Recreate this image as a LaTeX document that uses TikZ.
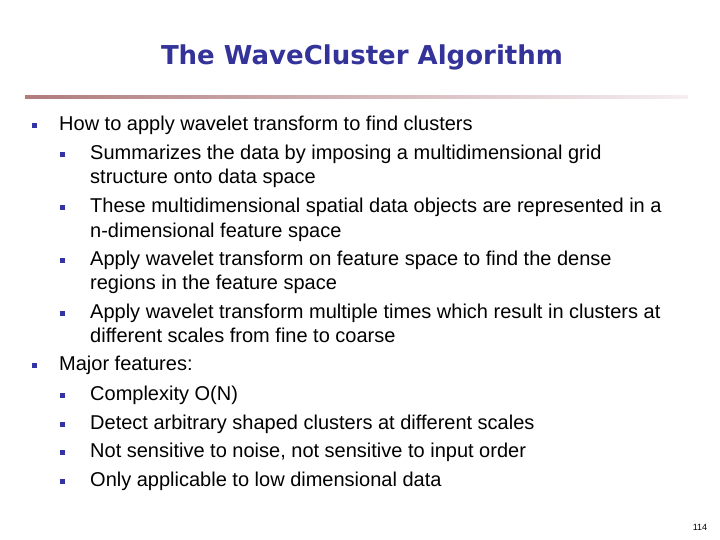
\documentclass[tikz,border=0pt]{standalone}
\usepackage{fontspec}
\setmainfont{Liberation Sans}
\newfontfamily\titlefont{DejaVu Sans}
\begin{document}
\begin{tikzpicture}[x=1pt,y=-1pt,
  txt/.style={anchor=base west,inner sep=0pt,font=\fontsize{20}{22}\selectfont},
  bul/.style={fill=blue!55!black!80,minimum size=5pt,inner sep=0pt}]
\useasboundingbox (0,0) rectangle (720,540);
\definecolor{tcol}{HTML}{333399}
\node[font=\titlefont\bfseries\fontsize{26}{30}\selectfont,text=tcol] (title) at (362,57) {The WaveCluster Algorithm};
\shade[left color={rgb,255:red,176;green,124;blue,124},right color={rgb,255:red,245;green,238;blue,242}] (25,95.5) rectangle (688,99);
\foreach \y/\lev/\t/\b [count=\i] in {
124/1/{How to apply wavelet transform to find clusters}/1,
153/2/{Summarizes the data by imposing a multidimensional grid}/1,
177/2/{structure onto data space}/0,
206/2/{These multidimensional spatial data objects are represented in a}/1,
230/2/{n-dimensional feature space}/0,
258/2/{Apply wavelet transform on feature space to find the dense}/1,
282/2/{regions in the feature space}/0,
311/2/{Apply wavelet transform multiple times which result in clusters at}/1,
335/2/{different scales from fine to coarse}/0,
363/1/{Major features:}/1,
393/2/{Complexity O(N)}/1,
422/2/{Detect arbitrary shaped clusters at different scales}/1,
450/2/{Not sensitive to noise, not sensitive to input order}/1,
479/2/{Only applicable to low dimensional data}/1}
{
  \ifnum\lev=1 \def\tx{59}\def\bx{34}\else \def\tx{90}\def\bx{62}\fi
  \node[txt] (l\i) at (\tx,\y+7) {\t};
  \ifnum\b=1 \node[bul] (b\i) at (\bx,\y+2) {};\fi
}
\node[font=\fontsize{9}{10}\selectfont] (pg) at (700,527) {114};
\end{tikzpicture}
\end{document}
